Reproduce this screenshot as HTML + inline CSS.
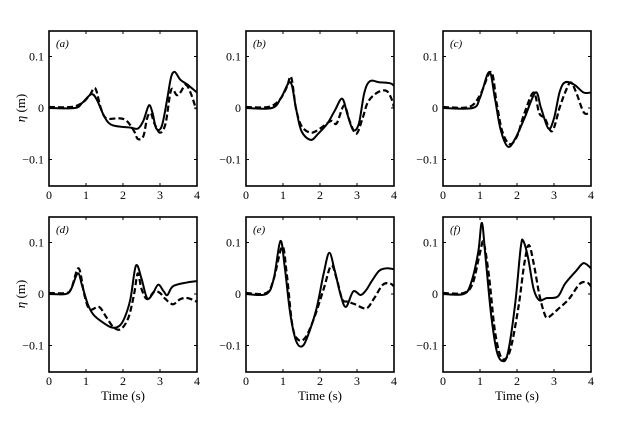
<!DOCTYPE html>
<html><head><meta charset="utf-8"><style>
html,body{margin:0;padding:0;background:#fff;width:620px;height:421px;overflow:hidden}
text{font-family:"Liberation Serif",serif;fill:#000}
</style></head><body>
<svg id="s" width="620" height="421" xmlns="http://www.w3.org/2000/svg"></svg>
<script>
const s=document.getElementById('s');
const P=[
 {x:49,z:108,t:31,lab:'(a)',yl:1,
  a:[[0,0],[0.7,0],[0.9,0.01],[1.15,0.027],[1.3,0.015],[1.45,-0.01],[1.6,-0.028],[1.8,-0.035],[2.2,-0.038],[2.4,-0.04],[2.55,-0.025],[2.7,0.005],[2.8,-0.01],[2.9,-0.04],[3.05,-0.035],[3.2,0.02],[3.3,0.06],[3.4,0.07],[3.55,0.055],[3.75,0.045],[4,0.03]],
  b:[[0,0.002],[0.6,0.002],[0.9,0.01],[1.1,0.025],[1.25,0.038],[1.4,0.0],[1.55,-0.02],[1.9,-0.02],[2.1,-0.025],[2.3,-0.045],[2.4,-0.06],[2.55,-0.055],[2.65,-0.02],[2.75,-0.01],[2.85,-0.03],[3.0,-0.048],[3.15,-0.03],[3.3,0.035],[3.45,0.025],[3.55,0.03],[3.7,0.045],[3.85,0.025],[3.97,-0.002]]},
 {x:246,z:108,t:31,lab:'(b)',
  a:[[0,0],[0.7,0],[0.95,0.02],[1.2,0.05],[1.35,0.0],[1.5,-0.045],[1.75,-0.062],[1.95,-0.05],[2.2,-0.03],[2.4,-0.005],[2.6,0.018],[2.75,-0.015],[2.9,-0.043],[3.05,-0.03],[3.2,0.03],[3.35,0.052],[3.6,0.05],[3.9,0.048],[4,0.043]],
  b:[[0,0.002],[0.6,0.002],[0.9,0.015],[1.1,0.04],[1.22,0.06],[1.35,0.0],[1.5,-0.035],[1.75,-0.048],[2.0,-0.04],[2.3,-0.025],[2.45,-0.03],[2.65,0.005],[2.8,-0.025],[2.98,-0.05],[3.15,-0.02],[3.3,0.012],[3.55,0.03],[3.8,0.033],[3.95,0.015],[4,0.0]]},
 {x:443,z:108,t:31,lab:'(c)',
  a:[[0,0],[0.8,0],[1.0,0.02],[1.25,0.07],[1.4,0.02],[1.55,-0.04],[1.75,-0.075],[1.95,-0.06],[2.2,-0.02],[2.5,0.03],[2.65,0.0],[2.85,-0.04],[3.0,-0.02],[3.15,0.03],[3.3,0.05],[3.55,0.045],[3.8,0.03],[4,0.03]],
  b:[[0,0.002],[0.7,0.002],[1.0,0.025],[1.3,0.07],[1.45,0.01],[1.6,-0.045],[1.8,-0.07],[2.0,-0.055],[2.2,-0.01],[2.45,0.03],[2.6,-0.01],[2.75,-0.02],[2.95,-0.045],[3.15,0.0],[3.3,0.03],[3.45,0.05],[3.6,0.03],[3.8,-0.008],[3.95,-0.01]]},
 {x:49,z:294,t:217,lab:'(d)',yl:1,
  a:[[0,0],[0.45,0],[0.6,0.01],[0.78,0.04],[0.9,0.015],[1.05,-0.02],[1.2,-0.04],[1.45,-0.055],[1.7,-0.065],[1.9,-0.062],[2.05,-0.045],[2.2,-0.01],[2.35,0.055],[2.5,0.03],[2.65,-0.008],[2.8,0.0],[2.95,0.018],[3.1,0.005],[3.2,-0.002],[3.35,0.015],[3.7,0.022],[4,0.025]],
  b:[[0,0.002],[0.45,0.002],[0.6,0.01],[0.8,0.05],[0.95,0.0],[1.1,-0.03],[1.35,-0.025],[1.55,-0.045],[1.75,-0.065],[1.95,-0.068],[2.15,-0.045],[2.3,0.0],[2.4,0.04],[2.5,0.01],[2.65,-0.01],[2.85,0.005],[3.0,0.002],[3.15,-0.01],[3.35,-0.02],[3.55,-0.01],[3.75,-0.008],[4,-0.015]]},
 {x:246,z:294,t:217,lab:'(e)',
  a:[[0,0],[0.55,0],[0.75,0.03],[0.93,0.103],[1.05,0.05],[1.2,-0.04],[1.35,-0.09],[1.5,-0.102],[1.65,-0.085],[1.9,-0.03],[2.1,0.04],[2.25,0.08],[2.4,0.045],[2.55,0.0],[2.7,-0.025],[2.9,0.005],[3.1,-0.002],[3.25,0.008],[3.4,0.025],[3.6,0.045],[3.8,0.05],[4,0.048]],
  b:[[0,0.002],[0.55,0.002],[0.75,0.03],[0.98,0.092],[1.1,0.04],[1.25,-0.06],[1.4,-0.088],[1.6,-0.085],[1.85,-0.045],[2.1,0.01],[2.3,0.055],[2.45,0.03],[2.6,-0.01],[2.75,-0.015],[2.95,-0.02],[3.25,-0.028],[3.45,-0.01],[3.7,0.018],[3.9,0.02],[4,0.015]]},
 {x:443,z:294,t:217,lab:'(f)',
  a:[[0,0],[0.55,0],[0.75,0.02],[0.95,0.08],[1.05,0.138],[1.15,0.07],[1.3,-0.04],[1.45,-0.11],[1.6,-0.13],[1.75,-0.115],[1.95,-0.02],[2.1,0.09],[2.17,0.103],[2.3,0.07],[2.45,0.01],[2.6,-0.012],[2.8,-0.008],[3.1,-0.005],[3.3,0.02],[3.6,0.045],[3.8,0.06],[4,0.05]],
  b:[[0,0.002],[0.55,0.002],[0.8,0.02],[1.0,0.08],[1.1,0.1],[1.25,0.03],[1.4,-0.07],[1.55,-0.12],[1.7,-0.125],[1.85,-0.1],[2.05,-0.02],[2.2,0.06],[2.32,0.095],[2.45,0.06],[2.6,0.0],[2.75,-0.04],[2.85,-0.045],[3.1,-0.03],[3.4,-0.01],[3.7,0.02],[3.9,0.022],[4,0.015]]}
];
const W=148,SX=W/4,SY=515;
let h='';
function path(pts,o){
 const q=pts.map(p=>[o.x+p[0]*SX,o.z-p[1]*SY]);
 let d='M'+q[0][0].toFixed(1)+','+q[0][1].toFixed(1);
 for(let i=0;i<q.length-1;i++){
  const p0=q[Math.max(i-1,0)],p1=q[i],p2=q[i+1],p3=q[Math.min(i+2,q.length-1)];
  const c1=[p1[0]+(p2[0]-p0[0])/6,p1[1]+(p2[1]-p0[1])/6],c2=[p2[0]-(p3[0]-p1[0])/6,p2[1]-(p3[1]-p1[1])/6];
  d+='C'+c1.map(v=>v.toFixed(1))+' '+c2.map(v=>v.toFixed(1))+' '+p2.map(v=>v.toFixed(1));
 }
 return d;
}
for(const o of P){
 const b=o.t+155;
 h+=`<clipPath id="c${o.x}${o.t}"><rect x="${o.x}" y="${o.t}" width="${W}" height="155"/></clipPath>`;
 h+=`<g clip-path="url(#c${o.x}${o.t})"><path d="${path(o.a,o)}" fill="none" stroke="#000" stroke-width="2"/><path d="${path(o.b,o)}" fill="none" stroke="#000" stroke-width="2.2" stroke-dasharray="6,3"/></g>`;
 h+=`<rect x="${o.x}" y="${o.t}" width="${W}" height="155" fill="none" stroke="#000" stroke-width="1.6"/>`;
 for(let i=0;i<=4;i++){const X=o.x+i*SX;h+=`<line x1="${X}" y1="${b}" x2="${X}" y2="${b-3}" stroke="#000"/><line x1="${X}" y1="${o.t}" x2="${X}" y2="${o.t+3}" stroke="#000"/><text x="${X}" y="${b+13}" font-size="12" text-anchor="middle">${i}</text>`;}
 for(const v of [0.1,0,-0.1]){const Y=o.z-v*SY;h+=`<line x1="${o.x}" y1="${Y}" x2="${o.x+3}" y2="${Y}" stroke="#000"/><line x1="${o.x+W}" y1="${Y}" x2="${o.x+W-3}" y2="${Y}" stroke="#000"/><text x="${o.x-5}" y="${Y+4}" font-size="12" text-anchor="end">${v===0?'0':(v>0?'0.1':'\u22120.1')}</text>`;}
 h+=`<text x="${o.x+7}" y="${o.t+16}" font-size="11" font-style="italic">${o.lab}</text>`;
 if(o.t>100)h+=`<text x="${o.x+W/2}" y="${b+28}" font-size="13" text-anchor="middle">Time (s)</text>`;
 if(o.yl)h+=`<text transform="translate(25,${o.z}) rotate(-90)" font-size="13" text-anchor="middle"><tspan font-style="italic">η</tspan> (m)</text>`;
}
s.innerHTML=h;
</script>
</body></html>
